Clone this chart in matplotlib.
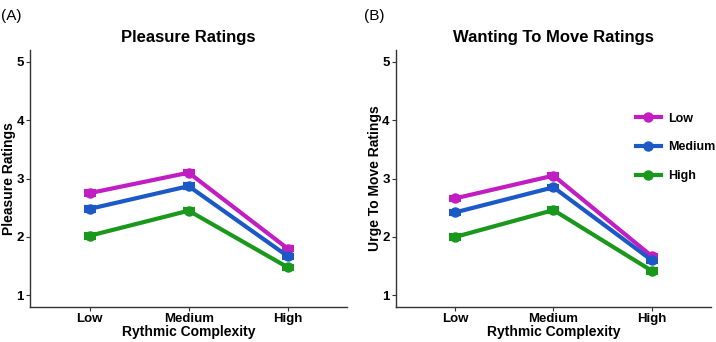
import numpy as np
import matplotlib
matplotlib.use('Agg')
import matplotlib.pyplot as plt

plt.rcParams['font.family'] = ['Liberation Sans', 'DejaVu Sans']

# categorias del eje x y grupos
complexity = ['Low', 'Medium', 'High']
groups = ['Low', 'Medium', 'High']
colors = ['#C21DC2', '#1B5AC6', '#1A981B']

# panel A: pleasure ratings (medias y error estandar aproximados)
pleasure_low = [2.75, 3.10, 1.80]
pleasure_med = [2.48, 2.87, 1.67]
pleasure_high = [2.02, 2.45, 1.48]
pleasure_se = [0.03, 0.03, 0.03]

# panel B: urge to move ratings
move_low = [2.66, 3.05, 1.67]
move_med = [2.42, 2.85, 1.60]
move_high = [2.00, 2.46, 1.42]
move_se = [0.03, 0.03, 0.03]

fig = plt.figure(figsize=(7.16, 3.42), dpi=100)
axA = fig.add_axes([0.042, 0.102, 0.443, 0.752])
axB = fig.add_axes([0.553, 0.102, 0.440, 0.752])

x = np.arange(len(complexity))


def draw(ax, series, se, title, ylabel, ylab_x, legend=False):
    for vals, col, name in zip(series, colors, groups):
        ax.errorbar(x, vals, yerr=se, color=col, lw=3, marker='o', ms=6.5,
                    capsize=4, capthick=3, elinewidth=3, label=name)
    ax.set_xlim(-0.6, 2.6)
    ax.set_ylim(0.8, 5.2)
    ax.set_xticks(x)
    ax.set_xticklabels(complexity, fontsize=9.5, fontweight='bold')
    ax.set_yticks([1, 2, 3, 4, 5])
    ax.set_yticklabels(['1', '2', '3', '4', '5'], fontsize=9.5, fontweight='bold')
    ax.set_xlabel('Rythmic Complexity', fontsize=10, fontweight='bold', labelpad=0)
    ax.set_ylabel(ylabel, fontsize=10, fontweight='bold')
    ax.yaxis.set_label_coords(ylab_x, 0.5)
    ax.set_title(title, fontsize=12, fontweight='bold', pad=6)
    ax.spines['top'].set_visible(False)
    ax.spines['right'].set_visible(False)
    for s in ['left', 'bottom']:
        ax.spines[s].set_color('#333333')
        ax.spines[s].set_linewidth(1)
    ax.tick_params(length=3, width=0.8, color='#333333', pad=1.5)
    if legend:
        handles, labels = ax.get_legend_handles_labels()
        hl = [h[0] for h in handles]
        ax.legend(hl, labels, loc='upper right', bbox_to_anchor=(1.05, 0.80),
                  frameon=False, prop={'weight': 'bold', 'size': 9},
                  handlelength=2.0, labelspacing=1.35, handletextpad=0.6)


draw(axA, [pleasure_low, pleasure_med, pleasure_high], pleasure_se,
     'Pleasure Ratings', 'Pleasure Ratings', -0.045)
draw(axB, [move_low, move_med, move_high], move_se,
     'Wanting To Move Ratings', 'Urge To Move Ratings', -0.045, legend=True)

fig.text(0.001, 0.975, '(A)', fontsize=11, va='top', ha='left')
fig.text(0.508, 0.975, '(B)', fontsize=11, va='top', ha='left')

fig.savefig('out.png', dpi=100)
